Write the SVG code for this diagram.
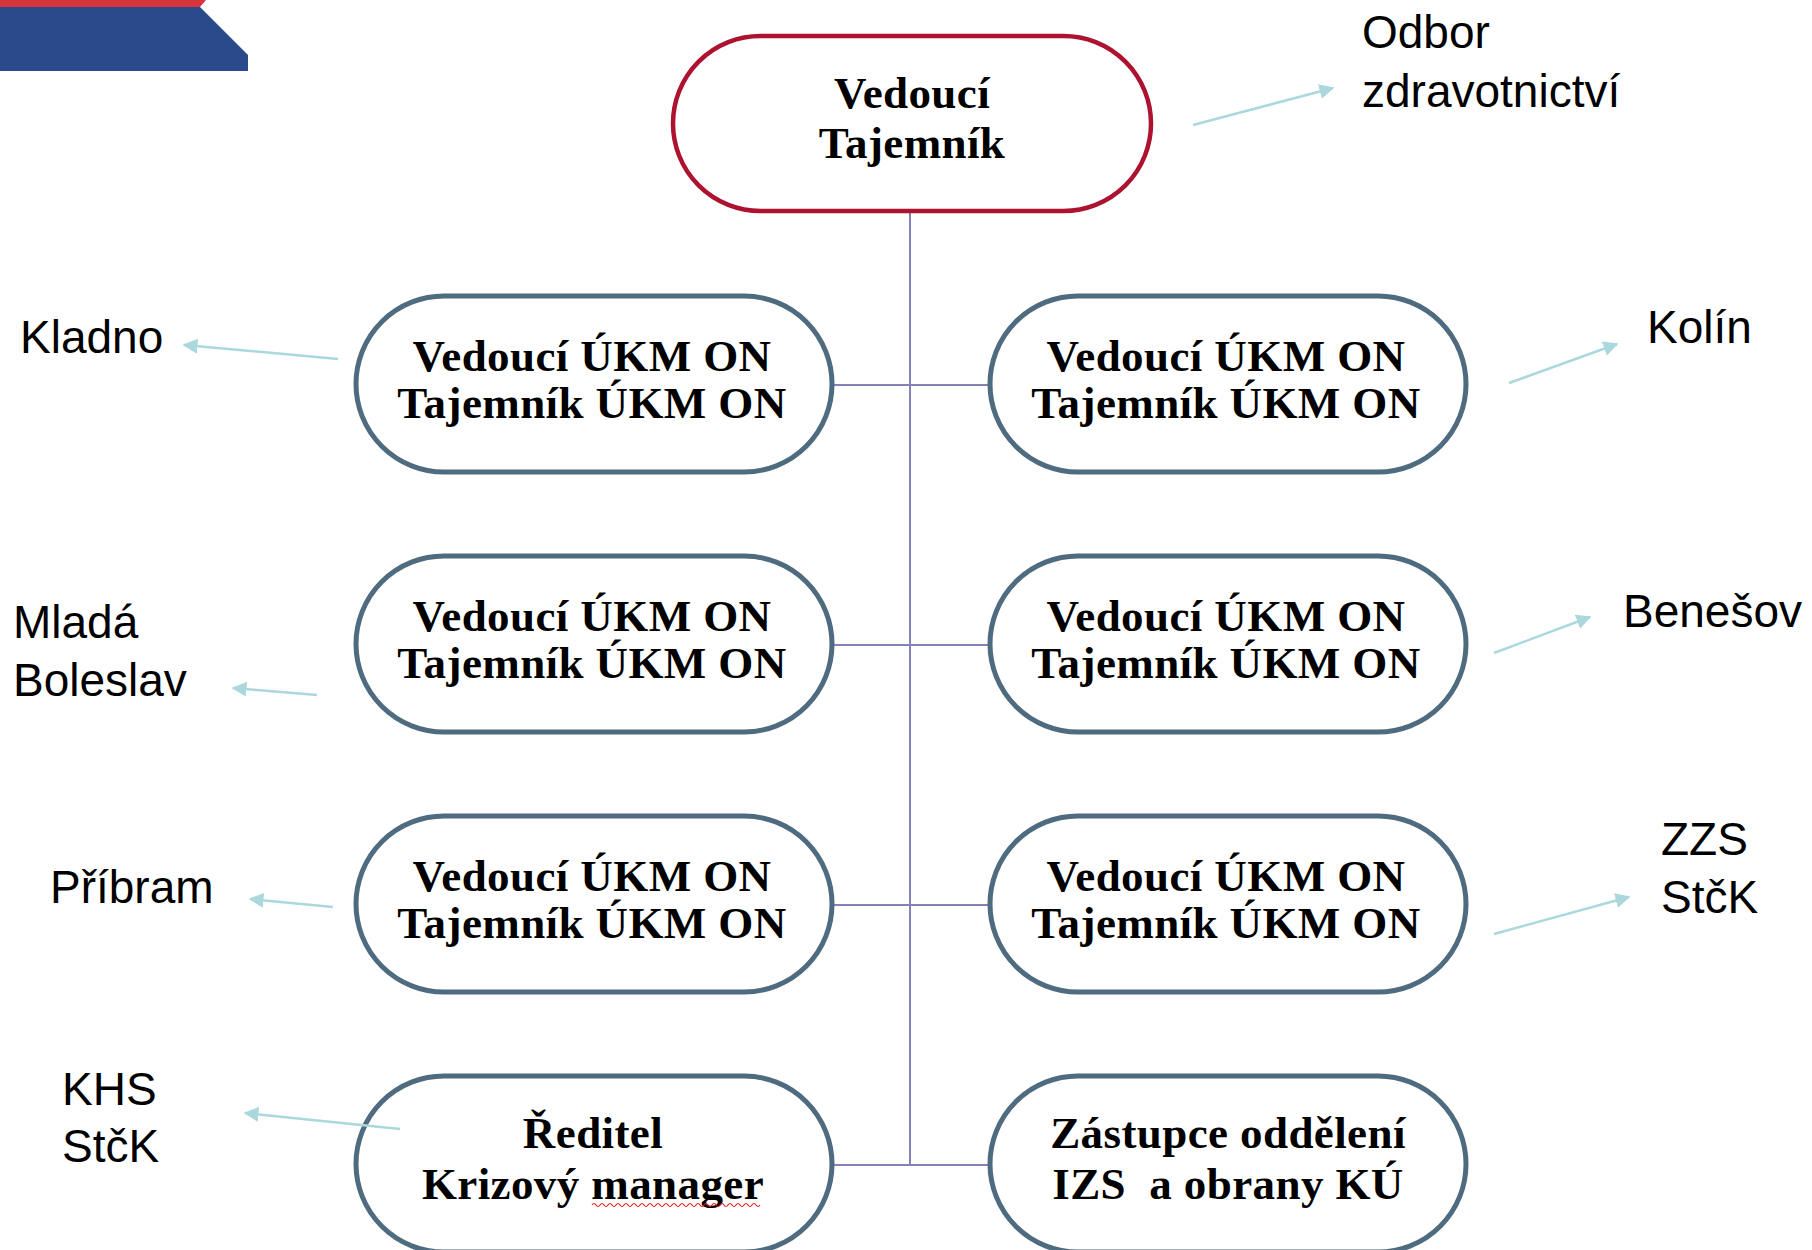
<svg xmlns="http://www.w3.org/2000/svg" width="1812" height="1250" viewBox="0 0 1812 1250">
<style>
.node{fill:#fff;stroke:#4e6b80;stroke-width:5}
.top{fill:#fff;stroke:#ad1230;stroke-width:4.5}
.nt{font-family:"Liberation Serif","Times New Roman",serif;font-weight:bold;font-size:45px;fill:#000;text-anchor:middle;letter-spacing:0.4px}
.lbl{font-family:"Liberation Sans",Arial,sans-serif;font-size:46px;fill:#000}
.conn{stroke:#8481b6;stroke-width:2;fill:none}
.arr{stroke:#aad8dc;stroke-width:2.5;fill:none;marker-end:url(#ah)}
</style>
<defs>
<marker id="ah" viewBox="0 0 10 10" refX="9" refY="5" markerWidth="6" markerHeight="6" markerUnits="strokeWidth" orient="auto">
<path d="M0,0 L10,5 L0,10 Z" fill="#aad8dc"/>
</marker>
</defs>
<g id="logo">
<polygon points="0,0 206,0 200,7 0,7" fill="#d8343a"/>
<polygon points="0,7 200,7 248,55 248,71 0,71" fill="#2b4a8c"/>
</g>
<g id="connectors">
<line class="conn" x1="910" y1="211" x2="910" y2="1165"/>
<line class="conn" x1="832" y1="385" x2="990" y2="385"/>
<line class="conn" x1="832" y1="645" x2="990" y2="645"/>
<line class="conn" x1="832" y1="905" x2="990" y2="905"/>
<line class="conn" x1="832" y1="1165" x2="990" y2="1165"/>
</g>
<g id="node-top">
<rect class="top" x="673" y="36" width="478" height="175" rx="87.5"/>
<text class="nt" x="912" y="108">Vedoucí</text>
<text class="nt" x="912" y="158">Tajemník</text>
</g>
<g id="node-l1">
<rect class="node" x="356" y="296" width="476" height="176" rx="88"/>
<text class="nt" x="592" y="371">Vedoucí ÚKM ON</text>
<text class="nt" x="592" y="418">Tajemník ÚKM ON</text>
</g>
<g id="node-r1">
<rect class="node" x="990" y="296" width="476" height="176" rx="88"/>
<text class="nt" x="1226" y="371">Vedoucí ÚKM ON</text>
<text class="nt" x="1226" y="418">Tajemník ÚKM ON</text>
</g>
<g id="node-l2">
<rect class="node" x="356" y="556" width="476" height="176" rx="88"/>
<text class="nt" x="592" y="631">Vedoucí ÚKM ON</text>
<text class="nt" x="592" y="678">Tajemník ÚKM ON</text>
</g>
<g id="node-r2">
<rect class="node" x="990" y="556" width="476" height="176" rx="88"/>
<text class="nt" x="1226" y="631">Vedoucí ÚKM ON</text>
<text class="nt" x="1226" y="678">Tajemník ÚKM ON</text>
</g>
<g id="node-l3">
<rect class="node" x="356" y="816" width="476" height="176" rx="88"/>
<text class="nt" x="592" y="891">Vedoucí ÚKM ON</text>
<text class="nt" x="592" y="938">Tajemník ÚKM ON</text>
</g>
<g id="node-r3">
<rect class="node" x="990" y="816" width="476" height="176" rx="88"/>
<text class="nt" x="1226" y="891">Vedoucí ÚKM ON</text>
<text class="nt" x="1226" y="938">Tajemník ÚKM ON</text>
</g>
<g id="node-l4">
<rect class="node" x="356" y="1076" width="476" height="176" rx="88"/>
<text class="nt" x="593" y="1148">Ředitel</text>
<text class="nt" x="593" y="1199">Krizový manager</text>
<path d="M592,1205 q2,-3 4,0 t4,0 t4,0 t4,0 t4,0 t4,0 t4,0 t4,0 t4,0 t4,0 t4,0 t4,0 t4,0 t4,0 t4,0 t4,0 t4,0 t4,0 t4,0 t4,0 t4,0 t4,0 t4,0 t4,0 t4,0 t4,0 t4,0 t4,0 t4,0 t4,0 t4,0 t4,0 t4,0 t4,0 t4,0 t4,0 t4,0 t4,0 t4,0 t4,0 t4,0 t4,0" fill="none" stroke="#e02020" stroke-width="1.2"/>
</g>
<g id="node-r4">
<rect class="node" x="990" y="1076" width="476" height="176" rx="88"/>
<text class="nt" x="1228" y="1148">Zástupce oddělení</text>
<text class="nt" x="1228" y="1199" xml:space="preserve">IZS  a obrany KÚ</text>
</g>
<g id="arrows">
<line class="arr" x1="1193" y1="125" x2="1333" y2="88"/>
<line class="arr" x1="338" y1="359" x2="184" y2="345"/>
<line class="arr" x1="1509" y1="383" x2="1617" y2="344"/>
<line class="arr" x1="1494" y1="653" x2="1590" y2="617"/>
<line class="arr" x1="317" y1="695" x2="233" y2="688"/>
<line class="arr" x1="333" y1="907" x2="250" y2="899"/>
<line class="arr" x1="1494" y1="934" x2="1629" y2="897"/>
<line class="arr" x1="400" y1="1129" x2="245" y2="1113"/>
</g>
<g id="labels">
<text class="lbl" x="1362" y="48">Odbor</text>
<text class="lbl" x="1362" y="107">zdravotnictví</text>
<text class="lbl" x="20" y="353">Kladno</text>
<text class="lbl" x="1647" y="343">Kolín</text>
<text class="lbl" x="13" y="638">Mladá</text>
<text class="lbl" x="13" y="696">Boleslav</text>
<text class="lbl" x="1623" y="627">Benešov</text>
<text class="lbl" x="50" y="903">Příbram</text>
<text class="lbl" x="1661" y="855">ZZS</text>
<text class="lbl" x="1661" y="913">StčK</text>
<text class="lbl" x="62" y="1105">KHS</text>
<text class="lbl" x="62" y="1162">StčK</text>
</g>
</svg>
